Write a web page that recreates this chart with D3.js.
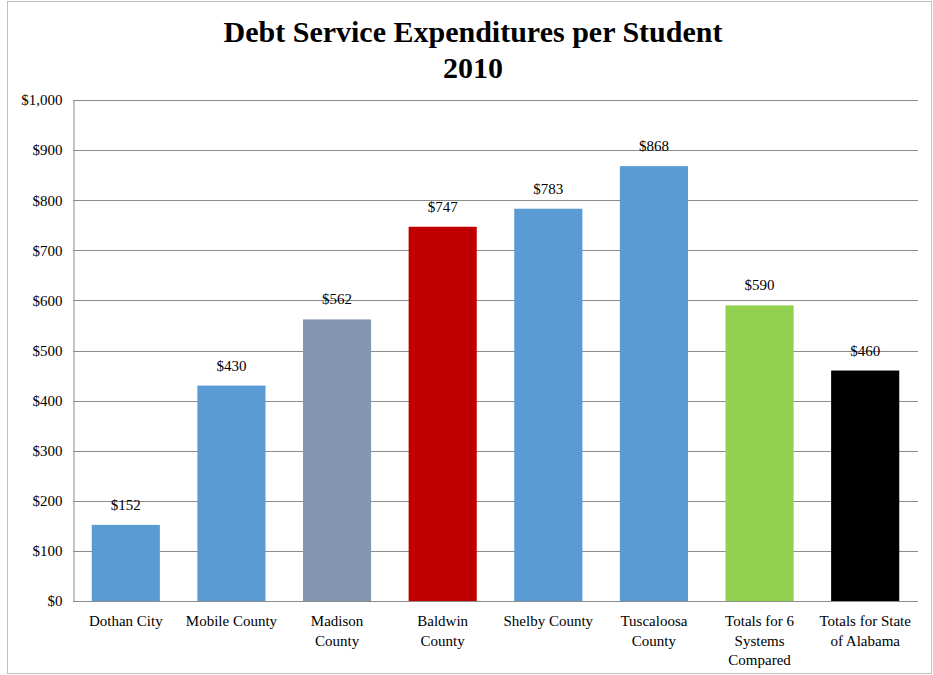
<!DOCTYPE html>
<html>
<head>
<meta charset="utf-8">
<script src="https://cdn.jsdelivr.net/npm/d3@7"></script>
<style>
  html, body { margin: 0; padding: 0; background: #fff; }
  svg { display: block; }
  text { font-family: "Liberation Serif", "Times New Roman", serif; fill: #000; }
</style>
</head>
<body>
<svg id="chart" width="933" height="675"></svg>
<script>
// Debt service expenditures per student, 2010
const categories = [
  ["Dothan City"],
  ["Mobile County"],
  ["Madison", "County"],
  ["Baldwin", "County"],
  ["Shelby County"],
  ["Tuscaloosa", "County"],
  ["Totals for 6", "Systems", "Compared"],
  ["Totals for State", "of Alabama"]
];
const values = [152, 430, 562, 747, 783, 868, 590, 460];
const barColors = ["#5B9BD5", "#5B9BD5", "#8497B0", "#C00000", "#5B9BD5", "#5B9BD5", "#92D050", "#000000"];
const yTicks = [0, 100, 200, 300, 400, 500, 600, 700, 800, 900, 1000];
const titleLines = ["Debt Service Expenditures per Student", "2010"];

const svg = d3.select("#chart");
const plot = { left: 73, right: 918, top: 100, bottom: 601 };

// outer chart border
svg.append("rect")
  .attr("x", 7.5).attr("y", 1.5)
  .attr("width", 924).attr("height", 672)
  .attr("fill", "none").attr("stroke", "#bfbfbf").attr("stroke-width", 1);

const x = d3.scaleBand()
  .domain(d3.range(categories.length))
  .range([plot.left, plot.right])
  .paddingInner(0.355).paddingOuter(0.1775);

const y = d3.scaleLinear().domain([0, 1000]).range([plot.bottom, plot.top]);

const fmt = v => "$" + d3.format(",")(v);

// horizontal gridlines
svg.append("g").selectAll("line")
  .data(yTicks.filter(t => t > 0))
  .join("line")
  .attr("x1", plot.left).attr("x2", plot.right)
  .attr("y1", d => Math.round(y(d)) + 0.5).attr("y2", d => Math.round(y(d)) + 0.5)
  .attr("stroke", "#8c8c8c").attr("stroke-width", 1);

// y axis
const yAxis = svg.append("g")
  .attr("transform", `translate(${plot.left + 0.5},0)`)
  .call(d3.axisLeft(y).tickValues(yTicks).tickFormat(fmt).tickSize(0).tickPadding(11));
yAxis.select(".domain").attr("stroke", "#8c8c8c");
yAxis.selectAll("text")
  .style("font-family", '"Liberation Serif", "Times New Roman", serif')
  .style("font-size", "15px").attr("fill", "#000");

// bars
svg.append("g").selectAll("rect")
  .data(values)
  .join("rect")
  .attr("x", (d, i) => x(i))
  .attr("y", d => y(d))
  .attr("width", x.bandwidth())
  .attr("height", d => y(0) - y(d))
  .attr("fill", (d, i) => barColors[i]);

// x axis baseline
svg.append("line")
  .attr("x1", plot.left).attr("x2", plot.right)
  .attr("y1", plot.bottom + 0.5).attr("y2", plot.bottom + 0.5)
  .attr("stroke", "#8c8c8c");

// value labels
svg.append("g").selectAll("text")
  .data(values)
  .join("text")
  .attr("x", (d, i) => x(i) + x.bandwidth() / 2)
  .attr("y", d => y(d) - 15)
  .attr("text-anchor", "middle")
  .style("font-size", "15px")
  .text(d => fmt(d));

// category labels
const catG = svg.append("g").selectAll("text")
  .data(categories)
  .join("text")
  .attr("x", (d, i) => x(i) + x.bandwidth() / 2)
  .attr("y", plot.bottom + 25)
  .attr("text-anchor", "middle")
  .style("font-size", "15px");
catG.selectAll("tspan")
  .data(d => d)
  .join("tspan")
  .attr("x", function() { return this.parentNode.getAttribute("x"); })
  .attr("dy", (d, i) => i === 0 ? 0 : 19.5)
  .text(d => d);

// title
svg.append("g").selectAll("text")
  .data(titleLines)
  .join("text")
  .attr("x", 473)
  .attr("y", (d, i) => 42 + i * 36)
  .attr("text-anchor", "middle")
  .style("font-size", "30px")
  .style("font-weight", "bold")
  .text(d => d);
</script>
</body>
</html>
